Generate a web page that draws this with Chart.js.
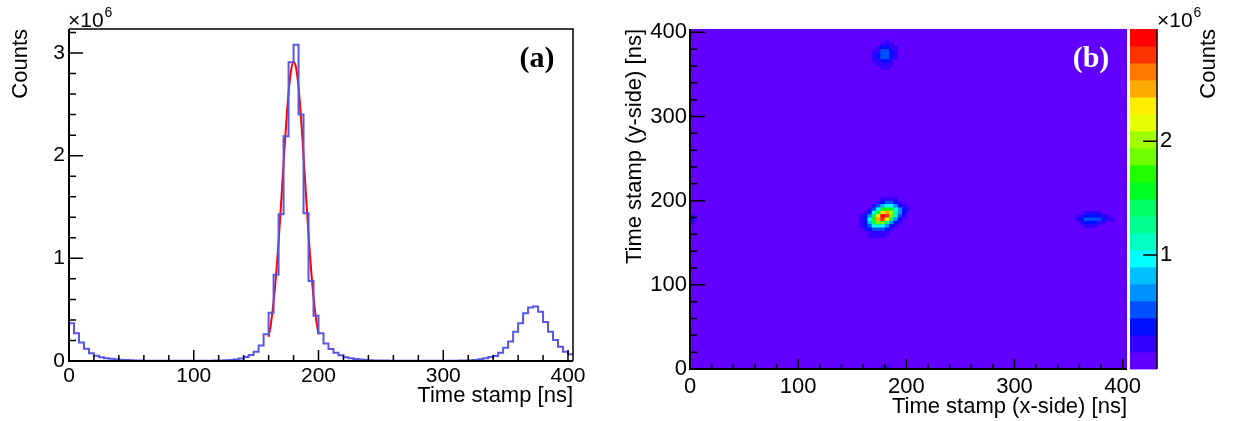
<!DOCTYPE html>
<html>
<head>
<meta charset="utf-8">
<script src="https://cdn.jsdelivr.net/npm/chart.js@4.4.0/dist/chart.umd.min.js"></script>
<style>
    html, body { margin: 0; padding: 0; background: #fff; }
    #wrap { position: relative; width: 1237px; height: 421px; }
    #histBox { position: absolute; left: 0; top: 0; width: 610px; height: 421px; }
    #mapBox { position: absolute; left: 600px; top: 0; width: 637px; height: 421px; }
</style>
</head>
<body>
<div id="wrap">
    <div id="histBox"><canvas id="histChart"></canvas></div>
    <div id="mapBox"><canvas id="mapChart"></canvas></div>
</div>
<script>
const FONT = "'Liberation Sans', Arial, sans-serif";
const binWidth = 4;      // ns
const timeMax = 404;     // ns, both axes

// (a) counts per 4 ns bin, in units of 10^6 (bins start at 0, 4, 8, ...)
const histCounts = [
    0.367, 0.27, 0.18, 0.12, 0.075, 0.052, 0.036, 0.028, 0.021, 0.016,
    0.012, 0.009, 0.007, 0.005, 0.004, 0.003, 0.003, 0.002, 0.002, 0.002,
    0.002, 0.002, 0.002, 0.002, 0.002, 0.002, 0.002, 0.003, 0.003, 0.004,
    0.005, 0.007, 0.01, 0.015, 0.025, 0.04, 0.058, 0.09, 0.15, 0.26,
    0.47, 0.84, 1.43, 2.19, 2.91, 3.08, 2.40, 1.44, 0.78, 0.44,
    0.27, 0.17, 0.117, 0.08, 0.055, 0.036, 0.028, 0.02, 0.015, 0.01,
    0.008, 0.006, 0.005, 0.004, 0.003, 0.003, 0.002, 0.002, 0.002, 0.002,
    0.002, 0.002, 0.002, 0.002, 0.002, 0.002, 0.003, 0.003, 0.004, 0.005,
    0.007, 0.01, 0.017, 0.027, 0.04, 0.049, 0.081, 0.13, 0.19, 0.285,
    0.367, 0.464, 0.52, 0.53, 0.48, 0.38, 0.285, 0.204, 0.14, 0.09,
    0.065
];
const histMax = 3.234;
const histTicksX = [0, 100, 200, 300, 400];
const histTicksY = [0, 1, 2, 3];

// gaussian fit of the main peak
const fitTimes = [160, 162, 164, 166, 168, 170, 172, 174, 176, 178, 180,
                  182, 184, 186, 188, 190, 192, 194, 196, 198, 200];
const fitCounts = [0.235, 0.377, 0.577, 0.839, 1.163, 1.534, 1.925, 2.299, 2.615, 2.829, 2.915,
                   2.857, 2.666, 2.368, 2.002, 1.611, 1.234, 0.900, 0.624, 0.412, 0.259];

// (b) colour levels, lowest first
const palette = ['#6200ff', '#3300ff', '#0010ff', '#0050ff', '#0090ff',
                 '#00c0ff', '#00ffff', '#00ffc0', '#00ff90', '#00ff60',
                 '#00ff20', '#20ff00', '#70ff00', '#a0ff00', '#e5ff00',
                 '#ffee00', '#ffaa00', '#ff7700', '#ff3300', '#ff0000'];
const zMax = 2.985;   // 10^6
const mapTicks = [0, 100, 200, 300, 400];
const zTicks = [1, 2];

// coincidence spots, rows listed from the highest y bin down
const mainSpotX0 = 156, mainSpotYTop = 200;
const mainSpotRows = [
    [0, 0, 0, 0, 0, 0.2, 0.25, 0.2, 0.15, 0, 0, 0],
    [0, 0, 0, 0, 0.2, 0.4, 0.55, 0.5, 0.35, 0.2, 0, 0],
    [0, 0, 0, 0.2, 0.45, 0.8, 1.0, 0.95, 0.7, 0.4, 0.2, 0],
    [0, 0, 0.2, 0.45, 0.9, 1.5, 1.7, 1.5, 1.0, 0.6, 0.3, 0.15],
    [0, 0.2, 0.4, 0.9, 1.6, 2.3, 2.5, 2.0, 1.3, 0.7, 0.3, 0],
    [0.15, 0.3, 0.7, 1.4, 2.3, 2.95, 2.7, 1.9, 1.1, 0.5, 0.2, 0],
    [0.2, 0.4, 0.9, 1.7, 2.5, 2.7, 2.2, 1.4, 0.7, 0.3, 0, 0],
    [0.2, 0.4, 0.8, 1.4, 1.9, 1.8, 1.3, 0.7, 0.35, 0.15, 0, 0],
    [0.15, 0.3, 0.55, 0.9, 1.1, 1.0, 0.7, 0.35, 0.15, 0, 0, 0],
    [0, 0.2, 0.35, 0.5, 0.55, 0.45, 0.3, 0.15, 0, 0, 0, 0],
    [0, 0, 0.2, 0.25, 0.25, 0.2, 0.15, 0, 0, 0, 0, 0],
    [0, 0, 0.15, 0.15, 0.15, 0.15, 0, 0, 0, 0, 0, 0]
];
const upperSpotX0 = 168, upperSpotYTop = 388;
const upperSpotRows = [
    [0, 0, 0, 0.18, 0, 0],
    [0, 0, 0.2, 0.25, 0.2, 0],
    [0, 0.2, 0.3, 0.32, 0.25, 0.18],
    [0.18, 0.25, 0.45, 0.5, 0.35, 0.2],
    [0.2, 0.3, 0.5, 0.55, 0.35, 0.2],
    [0.2, 0.3, 0.5, 0.5, 0.3, 0.18],
    [0.18, 0.25, 0.35, 0.35, 0.25, 0],
    [0, 0.2, 0.25, 0.25, 0.18, 0],
    [0, 0, 0.18, 0.18, 0, 0]
];
const rightSpotX0 = 356, rightSpotYTop = 184;
const rightSpotRows = [
    [0, 0, 0.18, 0.2, 0.2, 0.18, 0, 0, 0],
    [0.18, 0.25, 0.35, 0.4, 0.4, 0.35, 0.25, 0.18, 0],
    [0.2, 0.3, 0.45, 0.5, 0.5, 0.45, 0.35, 0.25, 0.18],
    [0, 0.2, 0.3, 0.35, 0.3, 0.25, 0.2, 0, 0],
    [0, 0, 0.18, 0.2, 0.18, 0, 0, 0, 0]
];
// single bins along the axes: [x, y, counts]
const edgeCells = [[0, 172, 0.2], [0, 176, 0.3], [0, 180, 0.25], [176, 0, 0.2], [180, 0, 0.2]];

function spotCells(x0, yTop, rows) {
    const out = [];
    rows.forEach((row, r) => row.forEach((v, c) => {
        if (v > 0) out.push({ x: x0 + c * binWidth, y: yTop - r * binWidth, v: v });
    }));
    return out;
}

const histPoints = histCounts.map((c, i) => ({ x: i * binWidth, y: c }));
histPoints.push({ x: timeMax, y: histCounts[histCounts.length - 1] });
const fitPoints = fitTimes.map((t, i) => ({ x: t, y: fitCounts[i] }));
const mapCells = [].concat(
    spotCells(mainSpotX0, mainSpotYTop, mainSpotRows),
    spotCells(upperSpotX0, upperSpotYTop, upperSpotRows),
    spotCells(rightSpotX0, rightSpotYTop, rightSpotRows),
    edgeCells.map(([x, y, v]) => ({ x, y, v }))
);

Chart.defaults.font.family = FONT;
Chart.defaults.color = '#000';

const fixedTicks = list => scale => { scale.ticks = list.map(v => ({ value: v })); };
// keep the plot frame where the layout padding puts it
const fixedWidth = w => scale => { scale.width = w; scale.paddingTop = 0; scale.paddingBottom = 0; };

function drawExponent(ctx, x, baseline) {
    ctx.font = '21px ' + FONT;
    ctx.textAlign = 'left';
    ctx.textBaseline = 'alphabetic';
    ctx.fillText('\u00d710', x, baseline);
    const w = ctx.measureText('\u00d710').width;
    ctx.font = '14px ' + FONT;
    ctx.fillText('6', x + w + 1, baseline - 10);
}

// inward ticks, axis lines, labels drawn over the plot
const rootAxes = {
    id: 'rootAxes',
    afterDraw(chart, args, o) {
        const { ctx, chartArea: a, scales: { x, y } } = chart;
        ctx.save();
        ctx.strokeStyle = '#000';
        ctx.lineWidth = 1.5;
        ctx.beginPath();
        const nx = Math.round(x.max / o.xMinor);
        for (let i = 0; i <= nx; i++) {
            const v = i * o.xMinor;
            if (v > x.max) break;
            const px = x.getPixelForValue(v);
            const len = (i % Math.round(o.xMajor / o.xMinor) === 0) ? o.xMajorLen : o.xMinorLen;
            ctx.moveTo(px, a.bottom);
            ctx.lineTo(px, a.bottom - len);
        }
        const ny = Math.round(y.max / o.yMinor);
        for (let i = 0; i <= ny; i++) {
            const v = i * o.yMinor;
            if (v > y.max) break;
            const py = y.getPixelForValue(v);
            const len = (i % Math.round(o.yMajor / o.yMinor) === 0) ? o.yMajorLen : o.yMinorLen;
            ctx.moveTo(a.left, py);
            ctx.lineTo(a.left + len, py);
        }
        ctx.stroke();

        ctx.lineWidth = 2;
        ctx.beginPath();
        ctx.moveTo(a.left, a.top);
        ctx.lineTo(a.left, a.bottom);
        ctx.lineTo(a.right, a.bottom);
        ctx.stroke();
        if (o.frame) {
            ctx.lineWidth = 1.5;
            ctx.beginPath();
            ctx.moveTo(a.left, a.top);
            ctx.lineTo(a.right, a.top);
            ctx.lineTo(a.right, a.bottom);
            ctx.stroke();
        }

        if (o.exponent) drawExponent(ctx, a.left - 1, a.top - 2);

        ctx.fillStyle = o.tagColor;
        ctx.font = "bold 30px 'Liberation Serif', serif";
        ctx.textAlign = 'center';
        ctx.textBaseline = 'middle';
        ctx.fillText(o.tag, a.right - 36, a.top + 30);
        ctx.restore();
    }
};

// 2D cells and colour bar for panel (b)
const heatmapCells = {
    id: 'heatmapCells',
    beforeDatasetsDraw(chart) {
        const { ctx, chartArea: a, scales: { x, y, z } } = chart;
        ctx.save();
        ctx.beginPath();
        ctx.rect(a.left, a.top, a.right - a.left, a.bottom - a.top);
        ctx.clip();
        ctx.fillStyle = palette[0];
        ctx.fillRect(a.left, a.top, a.right - a.left, a.bottom - a.top);
        chart.data.datasets[0].data.forEach(c => {
            const lvl = Math.min(palette.length - 1, Math.floor(c.v / zMax * palette.length));
            const x0 = x.getPixelForValue(c.x), x1 = x.getPixelForValue(c.x + binWidth);
            const y0 = y.getPixelForValue(c.y + binWidth), y1 = y.getPixelForValue(c.y);
            ctx.fillStyle = palette[lvl];
            ctx.fillRect(x0, y0, x1 - x0 + 0.4, y1 - y0 + 0.4);
        });
        ctx.restore();

        // colour bar
        ctx.save();
        const bx0 = z.left + 3, bx1 = z.left + 30;
        palette.forEach((col, i) => {
            const top = z.getPixelForValue((i + 1) * zMax / palette.length);
            const bot = z.getPixelForValue(i * zMax / palette.length);
            ctx.fillStyle = col;
            ctx.fillRect(bx0, top, bx1 - bx0, bot - top + 0.4);
        });
        ctx.strokeStyle = '#000';
        ctx.lineWidth = 1.5;
        ctx.beginPath();
        ctx.moveTo(bx1, a.top);
        ctx.lineTo(bx1, a.bottom);
        zTicks.forEach(v => {
            const py = z.getPixelForValue(v);
            ctx.moveTo(bx1, py);
            ctx.lineTo(bx1 - 14, py);
        });
        ctx.stroke();
        ctx.fillStyle = '#000';
        drawExponent(ctx, bx1, a.top - 2);
        ctx.translate(z.left + 82, a.top);
        ctx.rotate(-Math.PI / 2);
        ctx.font = '22px ' + FONT;
        ctx.textAlign = 'right';
        ctx.textBaseline = 'middle';
        ctx.fillText('Counts', 0, 0);
        ctx.restore();
    }
};

// Panel (a): time stamp spectrum
new Chart(document.getElementById('histChart'), {
    type: 'line',
    data: {
        datasets: [{
            label: 'Counts',
            data: histPoints,
            stepped: true,
            borderColor: '#5757e3',
            borderWidth: 2,
            pointRadius: 0,
            fill: false
        }, {
            label: 'Gaussian fit',
            data: fitPoints,
            borderColor: '#ff0000',
            borderWidth: 2,
            pointRadius: 0,
            tension: 0.4,
            cubicInterpolationMode: 'monotone',
            fill: false
        }]
    },
    options: {
        animation: false,
        responsive: true,
        maintainAspectRatio: false,
        layout: { padding: { top: 29, right: 37 } },
        plugins: {
            legend: { display: false },
            tooltip: { enabled: false },
            rootAxes: {
                xMajor: 100, xMinor: 20, xMajorLen: 11, xMinorLen: 6,
                yMajor: 1, yMinor: 0.2, yMajorLen: 14, yMinorLen: 7,
                frame: true, exponent: true, tag: '(a)', tagColor: '#000'
            }
        },
        scales: {
            x: {
                type: 'linear', min: 0, max: timeMax,
                grid: { display: false, drawTicks: false },
                border: { display: false },
                ticks: { padding: 3, maxRotation: 0, autoSkip: false, font: { size: 21 } },
                afterBuildTicks: fixedTicks(histTicksX),
                afterFit: s => { s.height = 60; },
                title: { display: true, text: 'Time stamp [ns]', align: 'end', font: { size: 22 }, padding: { top: 0, bottom: 12 } }
            },
            y: {
                type: 'linear', min: 0, max: histMax,
                grid: { display: false, drawTicks: false },
                border: { display: false },
                ticks: { padding: 4, autoSkip: false, font: { size: 21 } },
                afterBuildTicks: fixedTicks(histTicksY),
                afterFit: fixedWidth(69),
                title: { display: true, text: 'Counts', align: 'end', font: { size: 22 }, padding: { top: 8, bottom: 0 } }
            }
        }
    },
    plugins: [rootAxes]
});

// Panel (b): x-side vs y-side time stamps
new Chart(document.getElementById('mapChart'), {
    type: 'scatter',
    data: {
        datasets: [{
            label: 'Counts',
            data: mapCells,
            pointRadius: 0
        }]
    },
    options: {
        animation: false,
        responsive: true,
        maintainAspectRatio: false,
        layout: { padding: { top: 29 } },
        plugins: {
            legend: { display: false },
            tooltip: { enabled: false },
            rootAxes: {
                xMajor: 100, xMinor: 20, xMajorLen: 10, xMinorLen: 5,
                yMajor: 100, yMinor: 20, yMajorLen: 15, yMinorLen: 7,
                frame: false, exponent: false, tag: '(b)', tagColor: '#fff'
            }
        },
        scales: {
            x: {
                type: 'linear', min: 0, max: timeMax,
                grid: { display: false, drawTicks: false },
                border: { display: false },
                ticks: { padding: 5, maxRotation: 0, autoSkip: false, font: { size: 22 } },
                afterBuildTicks: fixedTicks(mapTicks),
                afterFit: s => { s.height = 52; },
                title: { display: true, text: 'Time stamp (x-side) [ns]', align: 'end', font: { size: 22 }, padding: { top: 0, bottom: 1 } }
            },
            y: {
                type: 'linear', min: 0, max: timeMax,
                grid: { display: false, drawTicks: false },
                border: { display: false },
                ticks: { padding: 3, autoSkip: false, font: { size: 22 } },
                afterBuildTicks: fixedTicks(mapTicks),
                afterFit: fixedWidth(90),
                title: { display: true, text: 'Time stamp (y-side) [ns]', align: 'end', font: { size: 22 }, padding: { top: 22, bottom: 0 } }
            },
            z: {
                type: 'linear', axis: 'y', position: 'right', min: 0, max: zMax,
                grid: { display: false, drawTicks: false },
                border: { display: false },
                ticks: { padding: 33, autoSkip: false, font: { size: 22 } },
                afterBuildTicks: fixedTicks(zTicks),
                afterFit: fixedWidth(110)
            }
        }
    },
    plugins: [heatmapCells, rootAxes]
});
</script>
</body>
</html>
